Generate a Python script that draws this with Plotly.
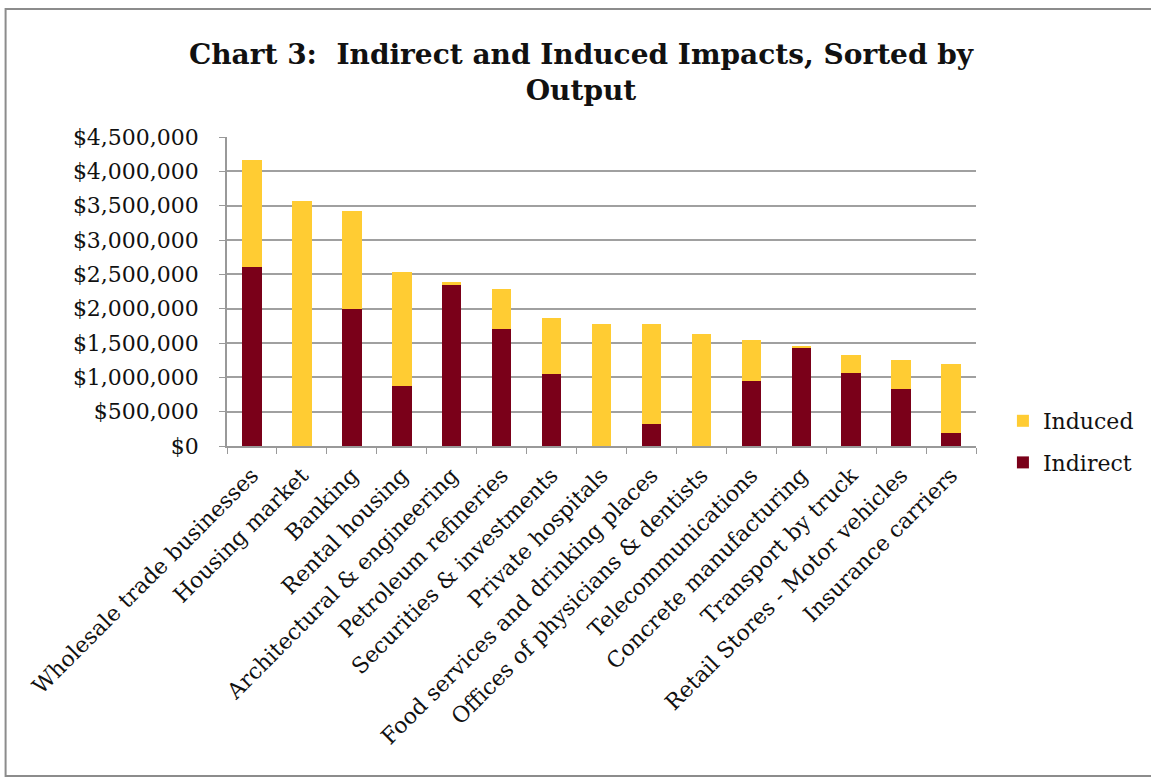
import plotly.graph_objects as go

categories = [
    "Wholesale trade businesses", "Housing market", "Banking", "Rental housing",
    "Architectural & engineering", "Petroleum refineries", "Securities & investments",
    "Private hospitals", "Food services and drinking places",
    "Offices of physicians & dentists", "Telecommunications",
    "Concrete manufacturing", "Transport by truck",
    "Retail Stores - Motor vehicles", "Insurance carriers",
]
totals = [4170000, 3570000, 3420000, 2540000, 2390000, 2280000, 1870000,
          1780000, 1780000, 1630000, 1550000, 1450000, 1330000, 1250000, 1200000]
indirect = [2600000, 0, 2000000, 880000, 2340000, 1710000, 1050000,
            0, 320000, 0, 940000, 1440000, 1060000, 830000, 190000]
induced = [t - i for t, i in zip(totals, indirect)]

MAROON = "#7A0019"
GOLD = "#FFCC33"
FONT = "DejaVu Serif"

fig = go.Figure()
fig.add_trace(go.Bar(name="Indirect", x=categories, y=indirect, legendrank=2,
                     marker=dict(color=MAROON, line=dict(width=0)), legendgroup="a"))
fig.add_trace(go.Bar(name="Induced", x=categories, y=induced, legendrank=1,
                     marker=dict(color=GOLD, line=dict(width=0)), legendgroup="b"))

W, H = 1151, 777
L, R, T, B = 227, 978, 137, 446
pw, ph = R - L, B - T

def px(x):
    return (x - L) / pw

def py(y):
    return (B - y) / ph

fig.update_layout(
    width=W, height=H,
    barmode="stack", bargap=0.61,
    paper_bgcolor="white", plot_bgcolor="white",
    margin=dict(l=L, r=W - R, t=T, b=H - B, pad=0),
    font=dict(family=FONT, size=22, color="#111"),
    title=dict(text="<b>Chart 3:  Indirect and Induced Impacts, Sorted by<br>Output</b>",
               x=581 / W, xanchor="center", y=1 - 64 / H, yanchor="middle",
               xref="container", yref="container",
               font=dict(family=FONT, size=28, color="#111")),
    legend=dict(x=px(1005), y=py(400), xanchor="left", yanchor="top",
                traceorder="grouped", tracegroupgap=10,
                font=dict(family=FONT, size=22, color="#111"),
                itemwidth=30, bgcolor="rgba(0,0,0,0)"),
    showlegend=True,
    xaxis=dict(type="category", tickson="boundaries", ticks="outside", ticklen=6,
               tickcolor="#999", tickangle=-45, showline=True, linecolor="#999",
               linewidth=1.5, showgrid=False, ticklabelstandoff=6,
               tickfont=dict(family=FONT, size=22, color="#111")),
    yaxis=dict(range=[0, 4500000], dtick=500000, tickprefix="$", tickformat=",",
               ticks="outside", ticklen=6, tickcolor="#999", showline=True,
               linecolor="#999", linewidth=1.5, showgrid=True, gridcolor="#A0A0A0",
               gridwidth=1.5, zeroline=False, ticklabelstandoff=16,
               tickfont=dict(family=FONT, size=22, color="#111")),
    shapes=[dict(type="rect", xref="paper", yref="paper",
                 x0=px(5), x1=px(1170), y0=py(776), y1=py(9),
                 line=dict(color="#8c8c8c", width=2), fillcolor="rgba(0,0,0,0)", layer="below")],
)

fig.write_html("out.html", config={"displayModeBar": False},
               post_script="document.body.style.margin='0px';")
